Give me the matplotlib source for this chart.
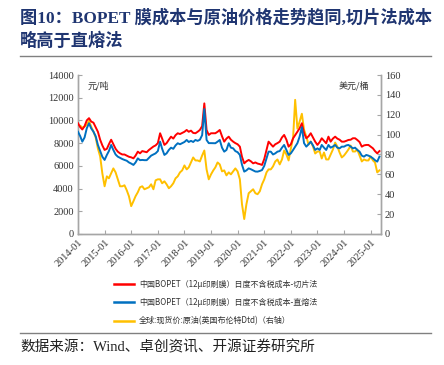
import matplotlib.pyplot as plt
import matplotlib.dates as mdates
import matplotlib.lines as mlines
import pandas as pd

# === Data (monthly) ===
months = pd.date_range("2014-01-01", "2025-05-01", freq="MS")

cost_chip = [
    9750, 9400, 9200, 9500, 10000, 10200, 9900, 9800, 9400, 9000, 8300, 7800,
    7400, 7500, 7900, 8300, 7900, 7500, 7250, 7100, 7000, 7000, 6900, 6800,
    6750, 6660, 6900, 7250, 7100, 7300, 7250, 7200, 7400, 7550, 7700, 7800,
    8000, 8870, 8400, 7840, 8000, 8300, 8570, 8400, 8700, 8870, 8800, 8900,
    9000, 9160, 9000, 9100, 8900, 8870, 9000, 9160, 9500, 11500, 9160, 8720,
    8870, 8870, 8870, 9000, 9160, 8600, 8130, 8400, 8570, 8300, 8130, 8000,
    7900, 7690, 6800, 6220, 6400, 6520, 6400, 6220, 6300, 6200, 6150, 6080,
    6600, 7400, 8130, 7900, 7690, 7900, 8000, 8130, 8500, 8720, 8300, 7690,
    7900, 8430, 8700, 9010, 9300, 9750, 8900, 8430, 8600, 8870, 8500, 8130,
    7840, 8100, 8430, 8200, 7990, 8570, 8130, 8400, 8570, 8400, 8300, 8130,
    8130, 8200, 8280, 8300, 8430, 8430, 8280, 8100, 7690, 7800, 7840, 7840,
    7690, 7540, 7300, 7100, 7300,
]

cost_melt = [
    9000, 8600, 8130, 8500, 9300, 9750, 9300, 9010, 8600, 7840, 7300, 6800,
    6520, 6960, 7300, 7840, 7400, 7000, 6810, 6700, 6600, 6520, 6450, 6300,
    6200, 6080, 6300, 6660, 6500, 6520, 6500, 6500, 6700, 6900, 7000, 7100,
    7300, 8130, 7500, 6960, 7100, 7400, 7600, 7500, 7800, 7990, 7900, 8000,
    8100, 8280, 8100, 8200, 8100, 8280, 8200, 8300, 8700, 11000, 8280, 8000,
    8000, 7990, 7990, 8130, 8280, 7600, 7250, 7400, 7990, 7600, 7540, 7300,
    7200, 6960, 6100, 5490, 5600, 5780, 5700, 5600, 5500, 5490, 5550, 5630,
    6000, 6660, 7250, 7250, 7000, 7100, 7250, 7300, 7600, 7840, 7400, 6960,
    7100, 7400, 7690, 8000, 8570, 9400, 8000, 7690, 7900, 8130, 7800, 7400,
    7540, 7400, 7840, 7600, 7400, 7840, 7600, 7700, 7840, 7600, 7540, 7690,
    7690, 7800, 7840, 7700, 7540, 7600, 7400, 7250, 6900, 6810, 6960, 6900,
    6800, 6660, 6500, 6370, 6810,
]

brent = [
    108, 109, 107, 108, 110, 114, 108, 103, 97, 86, 78, 61,
    48, 58, 56, 61, 66, 62, 55, 48, 48, 49, 44, 38,
    28, 33, 38, 42, 47, 48, 45, 46, 47, 50, 45, 54,
    55, 55, 51, 53, 50, 46, 48, 51, 56, 58, 62, 64,
    69, 65, 67, 72, 77, 74, 74, 73, 79, 84, 65, 55,
    60, 64, 67, 72, 70, 63, 64, 59, 62, 60, 63, 66,
    63, 55, 30, 15, 30, 41, 43, 45, 41, 40, 43, 50,
    55, 62, 65, 65, 68, 73, 75, 70, 75, 84, 80, 74,
    86, 97, 135, 106, 113, 121, 105, 98, 90, 93, 88, 81,
    83, 83, 76, 82, 75, 75, 80, 85, 92, 88, 82, 77,
    79, 82, 85, 89, 83, 83, 85, 79, 73, 75, 74, 74,
    78, 74, 72, 62, 64,
]

labels = [
    "中国BOPET（12μ印刷膜）日度不含税成本-切片法",
    "中国BOPET（12μ印刷膜）日度不含税成本-直熔法",
    "全球:现货价:原油(英国布伦特Dtd)（右轴）",
]

title = "图10：BOPET 膜成本与原油价格走势趋同,切片法成本\n略高于直熔法"
source = "数据来源：Wind、卓创资讯、开源证券研究所"

# === Style ===
plt.rcParams["font.family"] = ["Liberation Serif", "Noto Sans CJK SC", "DejaVu Sans"]
RED, BLUE, GOLD = "#FF0000", "#0070C0", "#FFC000"
GRAY = "#A6A6A6"

fig = plt.figure(figsize=(4.44, 3.65), dpi=100)
ax = fig.add_axes([0.1757, 0.359, 0.682, 0.4355])
ax2 = ax.twinx()

ax.plot(months, cost_chip, color=RED, lw=1.4, zorder=3)
ax.plot(months, cost_melt, color=BLUE, lw=1.4, zorder=3)
ax2.plot(months, brent, color=GOLD, lw=1.4, zorder=2)
ax.set_zorder(ax2.get_zorder() + 1)
ax.patch.set_visible(False)

ax.set_xlim(pd.Timestamp("2014-01-01"), pd.Timestamp("2025-05-20"))
ax.set_ylim(0, 14000)
ax2.set_ylim(0, 160)
ax.set_yticks(range(0, 14001, 2000))
ax2.set_yticks(range(0, 161, 20))

ax.xaxis.set_major_locator(mdates.YearLocator(month=1))
ax.xaxis.set_major_formatter(mdates.DateFormatter("%Y-%m"))
for lbl in ax.get_xticklabels():
    lbl.set_rotation(45)
    lbl.set_ha("right")
    lbl.set_rotation_mode("anchor")

for a in (ax, ax2):
    a.spines["top"].set_visible(False)
    for s in ("left", "right", "bottom"):
        a.spines[s].set_color(GRAY)
        a.spines[s].set_linewidth(1.0)
    a.tick_params(direction="in", length=3, color=GRAY, labelsize=7.5,
                  labelcolor="#333333", pad=3)

ax.text(0.03, 0.965, "元/吨", transform=ax.transAxes, fontsize=6.5,
        family=["Noto Sans CJK SC"], color="#333333", va="top", ha="left")
ax2.text(0.96, 0.965, "美元/桶", transform=ax2.transAxes, fontsize=6.5,
         family=["Noto Sans CJK SC"], color="#333333", va="top", ha="right")

# === Legend ===
handles = [mlines.Line2D([], [], color=c, lw=1.8) for c in (RED, BLUE, GOLD)]
fig.legend(handles, labels, loc="upper left", bbox_to_anchor=(0.24, 0.254),
           frameon=False, prop={"family": ["Noto Sans CJK SC", "DejaVu Sans"], "size": 5.8},
           handlelength=2.5, handletextpad=0.6, labelspacing=1.15,
           labelcolor="#333333")

# === Title, rules and source ===
fig.text(0.045, 0.976, title, fontsize=12.4, fontweight="bold", color="#1F3571",
         va="top", ha="left", linespacing=1.4)
fig.add_artist(mlines.Line2D([0.045, 0.97], [0.846, 0.846], color="#808080", lw=1.0))
fig.add_artist(mlines.Line2D([0.045, 0.97], [0.088, 0.088], color="#808080", lw=1.0))
fig.text(0.045, 0.048, source, fontsize=10.5, color="#222222", va="center", ha="left")

fig.savefig("out.png", dpi=100)
